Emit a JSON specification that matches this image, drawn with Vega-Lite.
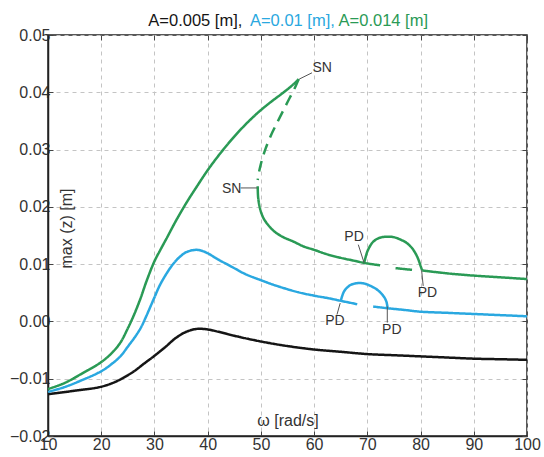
{
  "$schema": "https://vega.github.io/schema/vega-lite/v6.json",
  "autosize": {"type": "none"},
  "padding": {"left": 48, "top": 35, "right": 17, "bottom": 21},
  "width": 479,
  "height": 401,
  "background": "white",
  "config": {
    "view": {"stroke": "#222", "strokeWidth": 1.5},
    "font": "Liberation Sans",
    "axis": {
      "labelFont": "Liberation Sans", "titleFont": "Liberation Sans",
      "labelFontSize": 16, "titleFontSize": 16, "labelColor": "#333", "titleColor": "#333",
      "titleFontWeight": "normal",
      "domainColor": "#222", "domainWidth": 1.5,
      "tickColor": "#444", "tickSize": -5, "tickWidth": 1,
      "gridColor": "#c4c4c4", "gridDash": [4, 4], "gridWidth": 1
    }
  },
  "datasets": {
    "curves": [
      {"series":"A=0.005","seg":"k","style":"solid","omega":10,"z":-0.0127},
      {"series":"A=0.005","seg":"k","style":"solid","omega":15,"z":-0.0121},
      {"series":"A=0.005","seg":"k","style":"solid","omega":20,"z":-0.0114},
      {"series":"A=0.005","seg":"k","style":"solid","omega":23,"z":-0.0104},
      {"series":"A=0.005","seg":"k","style":"solid","omega":26,"z":-0.0088},
      {"series":"A=0.005","seg":"k","style":"solid","omega":28,"z":-0.0074},
      {"series":"A=0.005","seg":"k","style":"solid","omega":30,"z":-0.0060},
      {"series":"A=0.005","seg":"k","style":"solid","omega":32,"z":-0.0045},
      {"series":"A=0.005","seg":"k","style":"solid","omega":34,"z":-0.0029},
      {"series":"A=0.005","seg":"k","style":"solid","omega":36,"z":-0.0018},
      {"series":"A=0.005","seg":"k","style":"solid","omega":38,"z":-0.0013},
      {"series":"A=0.005","seg":"k","style":"solid","omega":40,"z":-0.0014},
      {"series":"A=0.005","seg":"k","style":"solid","omega":42,"z":-0.0018},
      {"series":"A=0.005","seg":"k","style":"solid","omega":45,"z":-0.0025},
      {"series":"A=0.005","seg":"k","style":"solid","omega":50,"z":-0.0035},
      {"series":"A=0.005","seg":"k","style":"solid","omega":55,"z":-0.0043},
      {"series":"A=0.005","seg":"k","style":"solid","omega":60,"z":-0.0049},
      {"series":"A=0.005","seg":"k","style":"solid","omega":65,"z":-0.0053},
      {"series":"A=0.005","seg":"k","style":"solid","omega":70,"z":-0.0057},
      {"series":"A=0.005","seg":"k","style":"solid","omega":75,"z":-0.0059},
      {"series":"A=0.005","seg":"k","style":"solid","omega":80,"z":-0.0061},
      {"series":"A=0.005","seg":"k","style":"solid","omega":85,"z":-0.0063},
      {"series":"A=0.005","seg":"k","style":"solid","omega":90,"z":-0.0065},
      {"series":"A=0.005","seg":"k","style":"solid","omega":95,"z":-0.0066},
      {"series":"A=0.005","seg":"k","style":"solid","omega":100,"z":-0.0067},

      {"series":"A=0.01","seg":"b1","style":"solid","omega":10,"z":-0.0123},
      {"series":"A=0.01","seg":"b1","style":"solid","omega":13,"z":-0.0115},
      {"series":"A=0.01","seg":"b1","style":"solid","omega":16,"z":-0.0104},
      {"series":"A=0.01","seg":"b1","style":"solid","omega":20,"z":-0.0087},
      {"series":"A=0.01","seg":"b1","style":"solid","omega":22,"z":-0.0074},
      {"series":"A=0.01","seg":"b1","style":"solid","omega":23.6,"z":-0.0061},
      {"series":"A=0.01","seg":"b1","style":"solid","omega":25,"z":-0.0044},
      {"series":"A=0.01","seg":"b1","style":"solid","omega":26.5,"z":-0.0025},
      {"series":"A=0.01","seg":"b1","style":"solid","omega":27.5,"z":-0.0010},
      {"series":"A=0.01","seg":"b1","style":"solid","omega":28.5,"z":0.0010},
      {"series":"A=0.01","seg":"b1","style":"solid","omega":30,"z":0.0042},
      {"series":"A=0.01","seg":"b1","style":"solid","omega":31,"z":0.0063},
      {"series":"A=0.01","seg":"b1","style":"solid","omega":32.3,"z":0.0084},
      {"series":"A=0.01","seg":"b1","style":"solid","omega":33.5,"z":0.0100},
      {"series":"A=0.01","seg":"b1","style":"solid","omega":34.8,"z":0.0113},
      {"series":"A=0.01","seg":"b1","style":"solid","omega":36,"z":0.0121},
      {"series":"A=0.01","seg":"b1","style":"solid","omega":37.8,"z":0.0125},
      {"series":"A=0.01","seg":"b1","style":"solid","omega":39,"z":0.0123},
      {"series":"A=0.01","seg":"b1","style":"solid","omega":40,"z":0.0119},
      {"series":"A=0.01","seg":"b1","style":"solid","omega":42,"z":0.0108},
      {"series":"A=0.01","seg":"b1","style":"solid","omega":44.8,"z":0.0094},
      {"series":"A=0.01","seg":"b1","style":"solid","omega":47,"z":0.0083},
      {"series":"A=0.01","seg":"b1","style":"solid","omega":50,"z":0.0072},
      {"series":"A=0.01","seg":"b1","style":"solid","omega":53,"z":0.0062},
      {"series":"A=0.01","seg":"b1","style":"solid","omega":57,"z":0.0051},
      {"series":"A=0.01","seg":"b1","style":"solid","omega":60,"z":0.0045},
      {"series":"A=0.01","seg":"b1","style":"solid","omega":63,"z":0.0040},
      {"series":"A=0.01","seg":"b1","style":"solid","omega":65,"z":0.0036},
      {"series":"A=0.01","seg":"b1","style":"solid","omega":68.1,"z":0.0030},

      {"series":"A=0.01","seg":"b2","style":"solid","omega":71.1,"z":0.0026},
      {"series":"A=0.01","seg":"b2","style":"solid","omega":73.8,"z":0.0023},
      {"series":"A=0.01","seg":"b2","style":"solid","omega":77,"z":0.0020},
      {"series":"A=0.01","seg":"b2","style":"solid","omega":80,"z":0.0017},
      {"series":"A=0.01","seg":"b2","style":"solid","omega":85,"z":0.0015},
      {"series":"A=0.01","seg":"b2","style":"solid","omega":90,"z":0.0013},
      {"series":"A=0.01","seg":"b2","style":"solid","omega":95,"z":0.0011},
      {"series":"A=0.01","seg":"b2","style":"solid","omega":100,"z":0.0009},

      {"series":"A=0.01","seg":"b3","style":"solid","omega":65,"z":0.0036},
      {"series":"A=0.01","seg":"b3","style":"solid","omega":65.6,"z":0.0052},
      {"series":"A=0.01","seg":"b3","style":"solid","omega":66.2,"z":0.0059},
      {"series":"A=0.01","seg":"b3","style":"solid","omega":66.9,"z":0.0064},
      {"series":"A=0.01","seg":"b3","style":"solid","omega":67.6,"z":0.0066},
      {"series":"A=0.01","seg":"b3","style":"solid","omega":68.4,"z":0.0067},
      {"series":"A=0.01","seg":"b3","style":"solid","omega":69.5,"z":0.0066},
      {"series":"A=0.01","seg":"b3","style":"solid","omega":70.6,"z":0.0062},
      {"series":"A=0.01","seg":"b3","style":"solid","omega":71.6,"z":0.0057},
      {"series":"A=0.01","seg":"b3","style":"solid","omega":72.5,"z":0.0050},
      {"series":"A=0.01","seg":"b3","style":"solid","omega":73.2,"z":0.0042},
      {"series":"A=0.01","seg":"b3","style":"solid","omega":73.6,"z":0.0034},
      {"series":"A=0.01","seg":"b3","style":"solid","omega":73.8,"z":0.0024},

      {"series":"A=0.014","seg":"g1","style":"solid","omega":10,"z":-0.0118},
      {"series":"A=0.014","seg":"g1","style":"solid","omega":13,"z":-0.0108},
      {"series":"A=0.014","seg":"g1","style":"solid","omega":16,"z":-0.0093},
      {"series":"A=0.014","seg":"g1","style":"solid","omega":20,"z":-0.0071},
      {"series":"A=0.014","seg":"g1","style":"solid","omega":22,"z":-0.0055},
      {"series":"A=0.014","seg":"g1","style":"solid","omega":23.6,"z":-0.0037},
      {"series":"A=0.014","seg":"g1","style":"solid","omega":25,"z":-0.0012},
      {"series":"A=0.014","seg":"g1","style":"solid","omega":26,"z":0.0008},
      {"series":"A=0.014","seg":"g1","style":"solid","omega":27.3,"z":0.0038},
      {"series":"A=0.014","seg":"g1","style":"solid","omega":28.5,"z":0.0070},
      {"series":"A=0.014","seg":"g1","style":"solid","omega":30,"z":0.0105},
      {"series":"A=0.014","seg":"g1","style":"solid","omega":31,"z":0.0123},
      {"series":"A=0.014","seg":"g1","style":"solid","omega":32.4,"z":0.0147},
      {"series":"A=0.014","seg":"g1","style":"solid","omega":34,"z":0.0175},
      {"series":"A=0.014","seg":"g1","style":"solid","omega":36,"z":0.0207},
      {"series":"A=0.014","seg":"g1","style":"solid","omega":38,"z":0.0236},
      {"series":"A=0.014","seg":"g1","style":"solid","omega":40,"z":0.0264},
      {"series":"A=0.014","seg":"g1","style":"solid","omega":42,"z":0.0289},
      {"series":"A=0.014","seg":"g1","style":"solid","omega":44,"z":0.0312},
      {"series":"A=0.014","seg":"g1","style":"solid","omega":46,"z":0.0333},
      {"series":"A=0.014","seg":"g1","style":"solid","omega":48,"z":0.0352},
      {"series":"A=0.014","seg":"g1","style":"solid","omega":50,"z":0.0369},
      {"series":"A=0.014","seg":"g1","style":"solid","omega":52,"z":0.0384},
      {"series":"A=0.014","seg":"g1","style":"solid","omega":54,"z":0.0398},
      {"series":"A=0.014","seg":"g1","style":"solid","omega":56,"z":0.0413},
      {"series":"A=0.014","seg":"g1","style":"solid","omega":57.1,"z":0.0423},

      {"series":"A=0.014","seg":"g2","style":"dashed","omega":57.1,"z":0.0423},
      {"series":"A=0.014","seg":"g2","style":"dashed","omega":56.5,"z":0.0410},
      {"series":"A=0.014","seg":"g2","style":"dashed","omega":55.4,"z":0.0390},
      {"series":"A=0.014","seg":"g2","style":"dashed","omega":54.3,"z":0.0370},
      {"series":"A=0.014","seg":"g2","style":"dashed","omega":53,"z":0.0346},
      {"series":"A=0.014","seg":"g2","style":"dashed","omega":51.8,"z":0.0323},
      {"series":"A=0.014","seg":"g2","style":"dashed","omega":50.9,"z":0.0302},
      {"series":"A=0.014","seg":"g2","style":"dashed","omega":50.2,"z":0.0282},
      {"series":"A=0.014","seg":"g2","style":"dashed","omega":49.7,"z":0.0263},
      {"series":"A=0.014","seg":"g2","style":"dashed","omega":49.4,"z":0.0247},

      {"series":"A=0.014","seg":"g3","style":"solid","omega":49.4,"z":0.0236},
      {"series":"A=0.014","seg":"g3","style":"solid","omega":49.5,"z":0.0215},
      {"series":"A=0.014","seg":"g3","style":"solid","omega":49.9,"z":0.0195},
      {"series":"A=0.014","seg":"g3","style":"solid","omega":50.5,"z":0.0180},
      {"series":"A=0.014","seg":"g3","style":"solid","omega":51.4,"z":0.0168},
      {"series":"A=0.014","seg":"g3","style":"solid","omega":52.4,"z":0.0158},
      {"series":"A=0.014","seg":"g3","style":"solid","omega":54,"z":0.0148},
      {"series":"A=0.014","seg":"g3","style":"solid","omega":56.2,"z":0.0139},
      {"series":"A=0.014","seg":"g3","style":"solid","omega":58,"z":0.0131},
      {"series":"A=0.014","seg":"g3","style":"solid","omega":60,"z":0.0125},
      {"series":"A=0.014","seg":"g3","style":"solid","omega":62.5,"z":0.0117},
      {"series":"A=0.014","seg":"g3","style":"solid","omega":65,"z":0.0111},
      {"series":"A=0.014","seg":"g3","style":"solid","omega":67.5,"z":0.0106},
      {"series":"A=0.014","seg":"g3","style":"solid","omega":69.5,"z":0.0102},
      {"series":"A=0.014","seg":"g3","style":"solid","omega":72.4,"z":0.0098},

      {"series":"A=0.014","seg":"g4","style":"solid","omega":75.3,"z":0.0093},
      {"series":"A=0.014","seg":"g4","style":"solid","omega":78.4,"z":0.0090},

      {"series":"A=0.014","seg":"g5","style":"solid","omega":69.4,"z":0.0102},
      {"series":"A=0.014","seg":"g5","style":"solid","omega":69.7,"z":0.0113},
      {"series":"A=0.014","seg":"g5","style":"solid","omega":70,"z":0.0122},
      {"series":"A=0.014","seg":"g5","style":"solid","omega":70.6,"z":0.0133},
      {"series":"A=0.014","seg":"g5","style":"solid","omega":71.2,"z":0.0140},
      {"series":"A=0.014","seg":"g5","style":"solid","omega":72.3,"z":0.0146},
      {"series":"A=0.014","seg":"g5","style":"solid","omega":73.7,"z":0.0148},
      {"series":"A=0.014","seg":"g5","style":"solid","omega":75,"z":0.0147},
      {"series":"A=0.014","seg":"g5","style":"solid","omega":76.2,"z":0.0143},
      {"series":"A=0.014","seg":"g5","style":"solid","omega":77.4,"z":0.0137},
      {"series":"A=0.014","seg":"g5","style":"solid","omega":78.4,"z":0.0128},
      {"series":"A=0.014","seg":"g5","style":"solid","omega":79.1,"z":0.0118},
      {"series":"A=0.014","seg":"g5","style":"solid","omega":79.6,"z":0.0108},
      {"series":"A=0.014","seg":"g5","style":"solid","omega":80,"z":0.0097},
      {"series":"A=0.014","seg":"g5","style":"solid","omega":80.3,"z":0.0089},

      {"series":"A=0.014","seg":"g6","style":"solid","omega":80.3,"z":0.0089},
      {"series":"A=0.014","seg":"g6","style":"solid","omega":83,"z":0.0086},
      {"series":"A=0.014","seg":"g6","style":"solid","omega":86,"z":0.0083},
      {"series":"A=0.014","seg":"g6","style":"solid","omega":90,"z":0.0080},
      {"series":"A=0.014","seg":"g6","style":"solid","omega":95,"z":0.0077},
      {"series":"A=0.014","seg":"g6","style":"solid","omega":100,"z":0.0074}
    ],
    "notes": [
      {"label":"SN","tx":61.5,"ty":0.0442,"x1":57.2,"y1":0.0423,"x2":59.6,"y2":0.0434},
      {"label":"SN","tx":44.5,"ty":0.0232,"x1":46.2,"y1":0.0233,"x2":49.3,"y2":0.0233},
      {"label":"PD","tx":67.5,"ty":0.0148,"x1":68.3,"y1":0.0134,"x2":69.4,"y2":0.0102},
      {"label":"PD","tx":81.3,"ty":0.0050,"x1":80.2,"y1":0.0089,"x2":80.5,"y2":0.0062},
      {"label":"PD","tx":63.9,"ty":0.0000,"x1":64.9,"y1":0.0032,"x2":64.3,"y2":0.0012},
      {"label":"PD","tx":74.6,"ty":-0.0015,"x1":73.75,"y1":0.0026,"x2":73.75,"y2":-0.0002}
    ],
    "titleparts": [
      {"series":"A=0.005","text":"A=0.005 [m],","tx":28.85,"ty":0.0515},
      {"series":"A=0.01","text":"A=0.01 [m],","tx":47.95,"ty":0.0515},
      {"series":"A=0.014","text":"A=0.014 [m]","tx":64.6,"ty":0.0515}
    ]
  },
  "resolve": {"axis": {"x": "independent", "y": "independent"}},
  "layer": [
    {
      "data": {"name": "curves"},
      "mark": {"type": "line", "strokeWidth": 2.5, "strokeCap": "butt", "interpolate": "catmull-rom"},
      "encoding": {
        "x": {"field": "omega", "type": "quantitative",
              "scale": {"domain": [10, 100], "nice": false, "zero": false},
              "axis": {"values": [10,20,30,40,50,60,70,80,90,100], "title": "ω [rad/s]",
                       "titleY": -16, "titleBaseline": "middle", "labelPadding": 5, "labelFlush": false}},
        "y": {"field": "z", "type": "quantitative",
              "scale": {"domain": [-0.02, 0.05], "nice": false, "zero": false},
              "axis": {"values": [-0.02,-0.01,0,0.01,0.02,0.03,0.04,0.05], "format": ".2f",
                       "title": "max (z) [m]", "titleX": 18, "titleY": 193, "titleAngle": -90,
                       "titleAlign": "center", "titleBaseline": "middle", "labelPadding": 3}},
        "color": {"field": "series", "type": "nominal",
                  "scale": {"domain": ["A=0.005","A=0.01","A=0.014"], "range": ["#151515","#2aa8e0","#2a9a55"]},
                  "legend": null},
        "detail": {"field": "seg"},
        "strokeDash": {"field": "style", "type": "nominal",
                       "scale": {"domain": ["solid","dashed"], "range": [[1,0],[11,7]]},
                       "legend": null},
        "order": {"value": null}
      }
    },
    {
      "data": {"name": "notes"},
      "mark": {"type": "rule", "color": "#555", "strokeWidth": 1},
      "encoding": {
        "x": {"field": "x1", "type": "quantitative", "axis": null},
        "y": {"field": "y1", "type": "quantitative", "axis": null},
        "x2": {"field": "x2"},
        "y2": {"field": "y2"}
      }
    },
    {
      "data": {"name": "notes"},
      "mark": {"type": "text", "fontSize": 14, "color": "#333", "align": "center", "baseline": "middle", "font": "Liberation Sans"},
      "encoding": {
        "x": {"field": "tx", "type": "quantitative", "axis": null},
        "y": {"field": "ty", "type": "quantitative", "axis": null},
        "text": {"field": "label"}
      }
    },
    {
      "data": {"name": "titleparts"},
      "mark": {"type": "text", "fontSize": 16.5, "align": "left", "baseline": "alphabetic", "font": "Liberation Sans"},
      "encoding": {
        "x": {"field": "tx", "type": "quantitative",
              "axis": {"orient": "top", "values": [10,20,30,40,50,60,70,80,90,100], "labels": false, "grid": false, "title": null, "domain": false}},
        "y": {"field": "ty", "type": "quantitative",
              "axis": {"orient": "right", "values": [-0.02,-0.01,0,0.01,0.02,0.03,0.04,0.05], "labels": false, "grid": false, "title": null, "domain": false}},
        "text": {"field": "text"},
        "color": {"field": "series", "type": "nominal", "legend": null}
      }
    }
  ]
}
